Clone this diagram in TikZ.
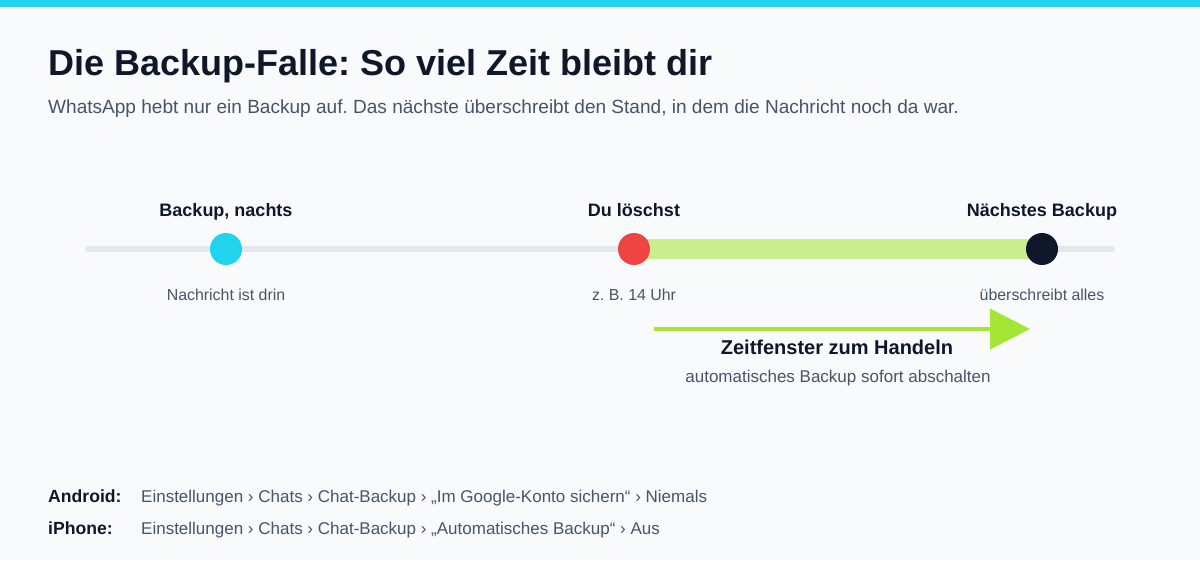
\documentclass[tikz,border=0pt]{standalone}
\usepackage{fontspec}
\setmainfont{Liberation Sans}
\usetikzlibrary{arrows.meta}
\definecolor{bg}{HTML}{F8FAFC}
\definecolor{cyanc}{HTML}{22D3EE}
\definecolor{dark}{HTML}{0F172A}
\definecolor{slate}{HTML}{475569}
\definecolor{track}{HTML}{E2E8F0}
\definecolor{redc}{HTML}{EF4444}
\definecolor{lime}{HTML}{A3E635}
\definecolor{limelight}{HTML}{C8EE8E}
\tikzset{
  dot/.style={circle, minimum size=32pt, inner sep=0pt, draw=none},
  toplbl/.style={anchor=base, text=dark, font=\fontsize{18}{21}\selectfont\bfseries},
  botlbl/.style={anchor=base, text=slate, font=\fontsize{15.9}{19}\selectfont},
  pathlbl/.style={anchor=base west, text=slate, font=\fontsize{17}{20}\selectfont},
  oslbl/.style={anchor=base west, text=dark, font=\fontsize{17.6}{21}\selectfont\bfseries},
}
\begin{document}
\frenchspacing
\begin{tikzpicture}[x=1pt,y=-1pt]
\useasboundingbox (0,0) rectangle (1200,560);
\fill[bg] (0,0) rectangle (1200,560);
\fill[cyanc] (0,0) rectangle (1200,7);
\node[anchor=base west, text=dark, font=\fontsize{36}{40}\selectfont\bfseries, inner sep=0pt] (title) at (48,75) {Die Backup-Falle: So viel Zeit bleibt dir};
\node[anchor=base west, text=slate, font=\fontsize{19.05}{22}\selectfont, inner sep=0pt] (sub) at (48,113) {WhatsApp hebt nur ein Backup auf. Das nächste überschreibt den Stand, in dem die Nachricht noch da war.};
% track
\coordinate (ts) at (88,249);
\coordinate (te) at (1112,249);
\draw[track, line width=6pt, line cap=round] (ts) -- (te);
\coordinate (gs) at (634,249);
\coordinate (ge) at (1042,249);
\draw[limelight, line width=20pt] (gs) -- (ge);
\node[dot, fill=cyanc] (d1) at (226,249) {};
\node[dot, fill=redc] (d2) at (634,249) {};
\node[dot, fill=dark] (d3) at (1042,249) {};
\node[toplbl] (l1) at (226,216) {Backup, nachts};
\node[toplbl] (l2) at (634,216) {Du löschst};
\node[toplbl] (l3) at (1042,216) {Nächstes Backup};
\node[botlbl] (b1) at (226,300) {Nachricht ist drin};
\node[botlbl] (b2) at (634,300) {z. B. 14 Uhr};
\node[botlbl] (b3) at (1042,300) {überschreibt alles};
% arrow
\coordinate (as) at (654,329);
\coordinate (ae) at (1030,329);
\draw[lime, line width=4pt, -{Triangle[length=40pt,width=40pt]}] (as) -- (ae);
\node[anchor=base, text=dark, font=\fontsize{20}{24}\selectfont\bfseries] (wl) at (837,354) {Zeitfenster zum Handeln};
\node[anchor=base, text=slate, font=\fontsize{17}{20}\selectfont] (ws) at (838,382) {automatisches Backup sofort abschalten};
% bottom
\node[oslbl, inner sep=0pt] (and) at (48,502) {Android:};
\node[pathlbl, inner sep=0pt] (andp) at (141,502) {Einstellungen › Chats › Chat-Backup › „Im Google-Konto sichern“ › Niemals};
\node[oslbl, inner sep=0pt] (iph) at (48,534) {iPhone:};
\node[pathlbl, inner sep=0pt] (iphp) at (141,534) {Einstellungen › Chats › Chat-Backup › „Automatisches Backup“ › Aus};
\end{tikzpicture}
\end{document}
